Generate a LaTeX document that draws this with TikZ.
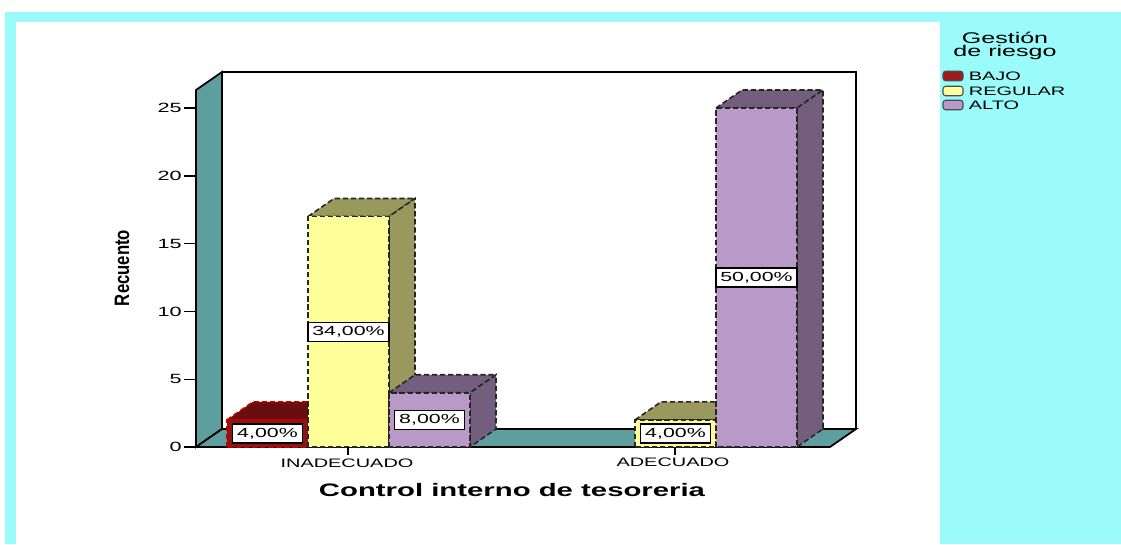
\documentclass[tikz,border=0pt]{standalone}
\usepackage{fontspec}
\setmainfont{Liberation Sans}

\definecolor{fondo}{RGB}{155,250,250}
\definecolor{pared}{RGB}{95,158,158}
\definecolor{rojoF}{RGB}{140,22,22}
\definecolor{rojoS}{RGB}{104,14,14}
\definecolor{rojoL}{RGB}{158,28,28}
\definecolor{amaF}{RGB}{255,255,153}
\definecolor{amaS}{RGB}{153,153,94}
\definecolor{morF}{RGB}{184,153,200}
\definecolor{morS}{RGB}{115,94,125}

\newcommand{\ancho}[1]{\scalebox{1.62}[1]{#1}}
\newcommand{\fs}[1]{\fontsize{#1}{#1}\selectfont}

\begin{document}
\begin{tikzpicture}[x=0.02cm, y=-0.02cm,
    eje/.style={font=\fs{7.6}, inner sep=0pt},
    cat/.style={font=\fs{7}, inner sep=0pt},
    titulo/.style={font=\fs{10.3}\bfseries, inner sep=0pt},
    etiqueta/.style={draw=black, fill=white, line width=0.7pt, font=\fs{7.5},
        inner xsep=2.5pt, inner ysep=0pt, minimum height=0.38cm},
    borde/.style={dash pattern=on 3pt off 1.6pt, line width=0.9pt},
    muestra/.style={draw=black!70, line width=0.6pt, rounded corners=1.5pt,
        minimum width=0.4cm, minimum height=0.19cm, inner sep=0pt},
    leyenda/.style={font=\fs{7}, inner sep=0pt, anchor=west}]
\useasboundingbox (0,0) rectangle (1121,544);

% marco y fondo
\fill[fondo] (5,12) rectangle (1121,544);
\fill[white] (16,22) rectangle (940,544);

% paredes y suelo
\filldraw[fill=pared, line width=1pt] (196,447) -- (196,90) -- (222,72) -- (222,429) -- cycle;
\filldraw[fill=white, line width=1pt] (222,429) -- (222,72) -- (856,72) -- (856,429);
\filldraw[fill=pared, line width=1pt] (196,447) -- (830,447) -- (856,429) -- (222,429) -- cycle;

% eje vertical
\foreach \v in {0,5,...,25} {
  \draw[line width=0.8pt] (184,{447-\v*13.56}) -- (196,{447-\v*13.56});
  \node[eje, anchor=east] (y\v) at (182,{447-\v*13.56}) {\ancho{\v}};
}
\node[titulo, rotate=90, font=\fs{9.5}\bfseries] (ytit) at (122,268) {\scalebox{1}[1.25]{Recuento}};

% barras
\foreach \xa/\h/\cf/\cs/\bc/\txt/\nm in {
    227/2/rojoF/rojoS/red!75!black/{4,00\%}/ib,
    308/17/amaF/amaS/black!85/{34,00\%}/ir,
    389/4/morF/morS/black!85/{8,00\%}/ia,
    635/2/amaF/amaS/black!85/{4,00\%}/ar,
    716/25/morF/morS/black!85/{50,00\%}/aa} {
  \pgfmathsetmacro\xb{\xa+81}
  \pgfmathsetmacro\yt{447-\h*13.56}
  \filldraw[fill=\cs, draw=\bc, borde] (\xa,\yt) -- ++(26,-18) -- (\xb+26,\yt-18) -- (\xb,\yt) -- cycle;
  \filldraw[fill=\cs, draw=\bc, borde] (\xb,447) -- (\xb,\yt) -- (\xb+26,\yt-18) -- (\xb+26,429) -- cycle;
  \filldraw[fill=\cf, draw=\bc, borde] (\xa,447) rectangle (\xb,\yt);
  \node[etiqueta] (\nm) at ({(\xa+\xb)/2},{447-\h*13.56/2}) {\ancho{\txt}};
}

% eje horizontal
\draw[line width=0.8pt] (348,447) -- (348,455);
\draw[line width=0.8pt] (675,447) -- (675,455);
\node[cat] (inad) at (347,463) {\ancho{INADECUADO}};
\node[cat] (adec) at (673,462) {\ancho{ADECUADO}};
\node[titulo] (xtit) at (512,490) {\ancho{Control interno de tesoreria}};

% leyenda
\node[font=\fs{8.8}, align=center, inner sep=0pt] (ley) at (1005,46) {\ancho{Gestión}\\[-1.5pt]\ancho{de riesgo}};
\foreach \y/\c/\t/\nm in {76/rojoL/BAJO/lb, 91/amaF/REGULAR/lr, 105/morF/ALTO/la} {
  \node[muestra, fill=\c] (\nm) at (953,\y) {};
  \node[leyenda] (\nm t) at ([xshift=0.1cm]\nm.east) {\ancho{\t}};
}
\end{tikzpicture}
\end{document}
